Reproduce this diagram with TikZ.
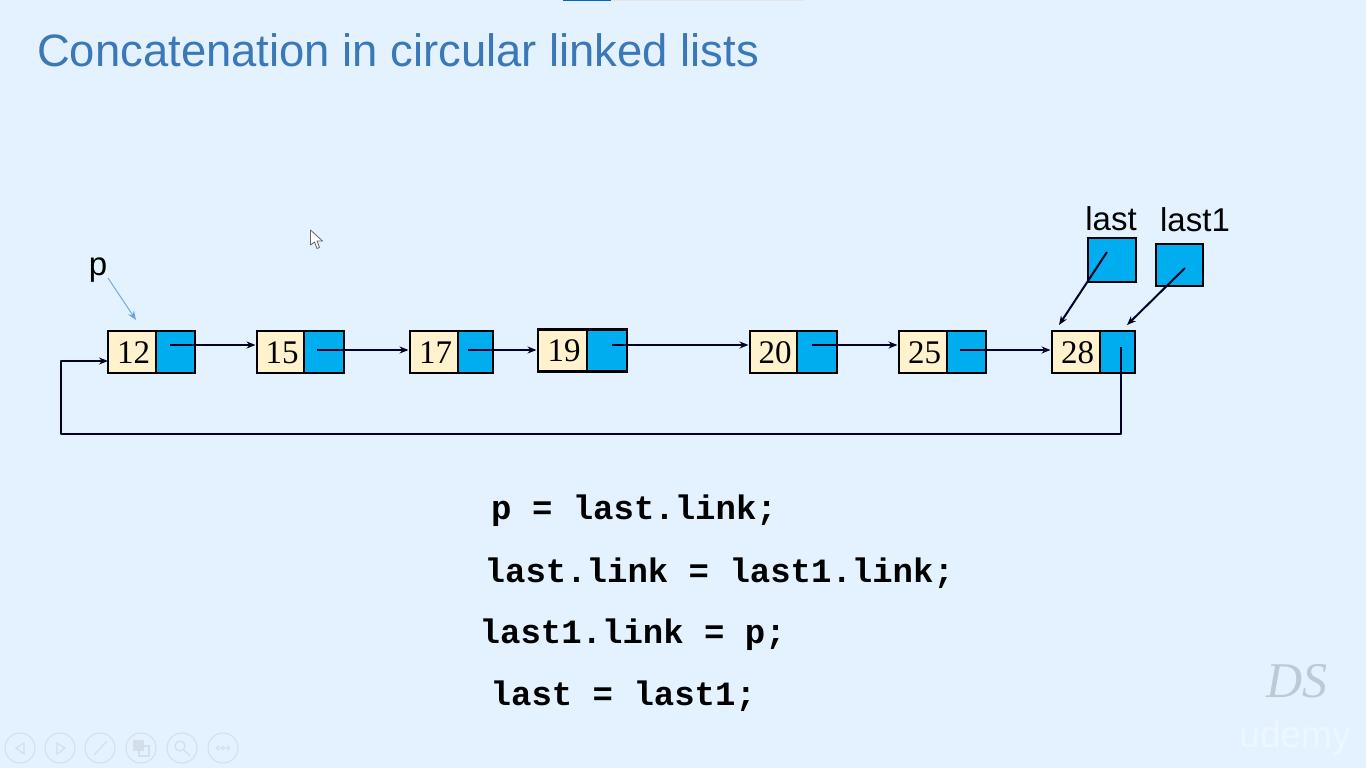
\documentclass[tikz,border=0pt]{standalone}
\usepackage{fontspec}
\setmainfont{Liberation Sans}
\newfontfamily\numfont{Liberation Serif}
\newfontfamily\codefont{Liberation Mono}
\usetikzlibrary{positioning}
\usetikzlibrary{arrows.meta}
\definecolor{slidebg}{HTML}{E4F2FF}
\definecolor{datafill}{HTML}{FFF2CC}
\definecolor{linkfill}{HTML}{00AEEF}
\definecolor{titleblue}{HTML}{3B78B8}
\definecolor{pointerblue}{HTML}{6FA3D6}
\definecolor{iconline}{HTML}{D3DEE8}
\tikzset{
  cell/.style={draw=black, line width=2.2pt, inner sep=0pt, outer sep=0pt},
  datacell/.style={cell, fill=datafill, font=\numfont\fontsize{33}{33}\selectfont},
  linkcell/.style={cell, fill=linkfill},
  nextarrow/.style={->, line width=2pt, line join=round, color=black!85!blue},
  varlabel/.style={font=\fontsize{33}{33}\selectfont, inner sep=0pt},
  codeline/.style={anchor=base west, inner sep=0pt, font=\codefont\bfseries\fontsize{34}{34}\selectfont},
  iconcircle/.style={circle, draw=iconline, line width=1pt, minimum size=30pt, inner sep=0pt},
  icondetail/.style={draw=iconline, line width=1.2pt}
}
\begin{document}
\begin{tikzpicture}[>={Stealth[length=9pt,width=7pt]}, x=1pt, y=-1pt]
  \fill[slidebg] (0,0) rectangle (1366,768);
  \useasboundingbox (0,0) rectangle (1366,768);
  % progress bar on top
  \fill[black!10] (611,0) rectangle (804,1.5);
  \fill[blue!50!cyan!80!black] (563,0) rectangle (611,1.5);

  \node (title) [anchor=base west, inner sep=0pt, text=titleblue, font=\fontsize{45.4}{46}\selectfont]
    at (37,66.5) {Concatenation in circular linked lists};

  % the list
  \foreach \val/\xpos/\ypos/\dw/\lw in {12/108/352/48/39, 15/257/352/47/40, 17/410/352/48/35,
      19/538/350.5/49/40, 20/750/352/47/40, 25/899/352/48/39, 28/1052/352/48/35} {
    \node (d\val) [datacell, anchor=west, minimum width=\dw pt, minimum height=42pt, text height=22pt, text depth=0pt] at (\xpos,\ypos) {\hspace{3pt}\val};
    \node (l\val) [linkcell, right=0pt of d\val, minimum width=\lw pt, minimum height=42pt] {};
  }
  \node (boxlast) [linkcell, minimum width=48pt, minimum height=44pt] at (1112,260) {};
  \node (boxlastone) [linkcell, minimum width=47pt, minimum height=42pt] at (1179.5,265) {};

  \node (labp) [varlabel] at (98,270) {p};
  \node (lablast) [varlabel] at (1111,219) {last};
  \node (lablastone) [varlabel] at (1195,220) {last1};

  % next links
  \foreach \from/\to/\sx/\sy in {12/15/14/7, 15/17/13/2, 17/19/10/2, 19/20/25/5.5, 20/25/15/7, 25/28/13/2} {
    \coordinate (s\from) at ([shift={(\sx pt,\sy pt)}]l\from.west);
    \draw[nextarrow, shorten >=1.5pt] (s\from) -- (d\to.west |- s\from);
  }

  % pointers
  \coordinate (t28a) at (1059,325);
  \coordinate (t28b) at (1127,325);
  \coordinate (t12) at (136,320);
  \coordinate (slast) at (1107,252);
  \coordinate (slastone) at (1185,268);
  \coordinate (sp) at (108,278);
  \draw[nextarrow] (slast) -- (t28a);
  \draw[nextarrow] (slastone) -- (t28b);
  \draw[->, line width=0.9pt, color=pointerblue] (sp) -- (t12);

  % back to the head
  \coordinate (s28) at (1121,347);
  \coordinate (backright) at (1121,434);
  \coordinate (backleft) at (61,434);
  \draw[nextarrow] (s28) -- (backright) -- (backleft) |- ([yshift=-9pt]d12.west);

  % code
  \node (code1) [codeline] at (491,519) {p = last.link;};
  \node (code2) [codeline] at (484.5,582) {last.link = last1.link;};
  \node (code3) [codeline] at (479.5,643) {last1.link = p;};
  \node (code4) [codeline] at (490.5,705) {last = last1;};

  % mouse pointer
  \draw[fill=white, draw=black!60, line width=0.8pt, line join=round]
    (310.5,230) -- (310.5,245) -- (314.5,242) -- (317,248.5) -- (319.5,247.5) -- (317,241) -- (322.5,241) -- cycle;

  % player buttons
  \foreach \num/\xpos in {1/20, 2/60, 3/100, 4/141, 5/182, 6/223} {
    \node (btn\num) [iconcircle] at (\xpos,748) {};
  }
  \draw[icondetail] (24,743) -- (16,748) -- (24,754) -- cycle;
  \draw[icondetail] (57,743) -- (65,748) -- (57,754) -- cycle;
  \draw[icondetail] (94,755) -- (107,741);
  \draw[icondetail, fill=iconline] (134,741) rectangle (143,750);
  \draw[icondetail] (139,746) rectangle (149,756);
  \draw[icondetail] (180,746) circle (5pt);
  \draw[icondetail] (184,750) -- (190,756);
  \foreach \xpos in {218, 223, 228} {
    \draw[icondetail, line width=0.8pt] (\xpos,748) circle (1.8pt);
  }

  % watermarks
  \node (markds) [inner sep=0pt, text=black!17!slidebg, font=\numfont\itshape\fontsize{50}{50}\selectfont] at (1297,681) {DS};
  \node (markudemy) [inner sep=0pt, text=white!35!slidebg, font=\fontsize{37}{37}\selectfont] at (1295,738) {udemy};
\end{tikzpicture}
\end{document}
